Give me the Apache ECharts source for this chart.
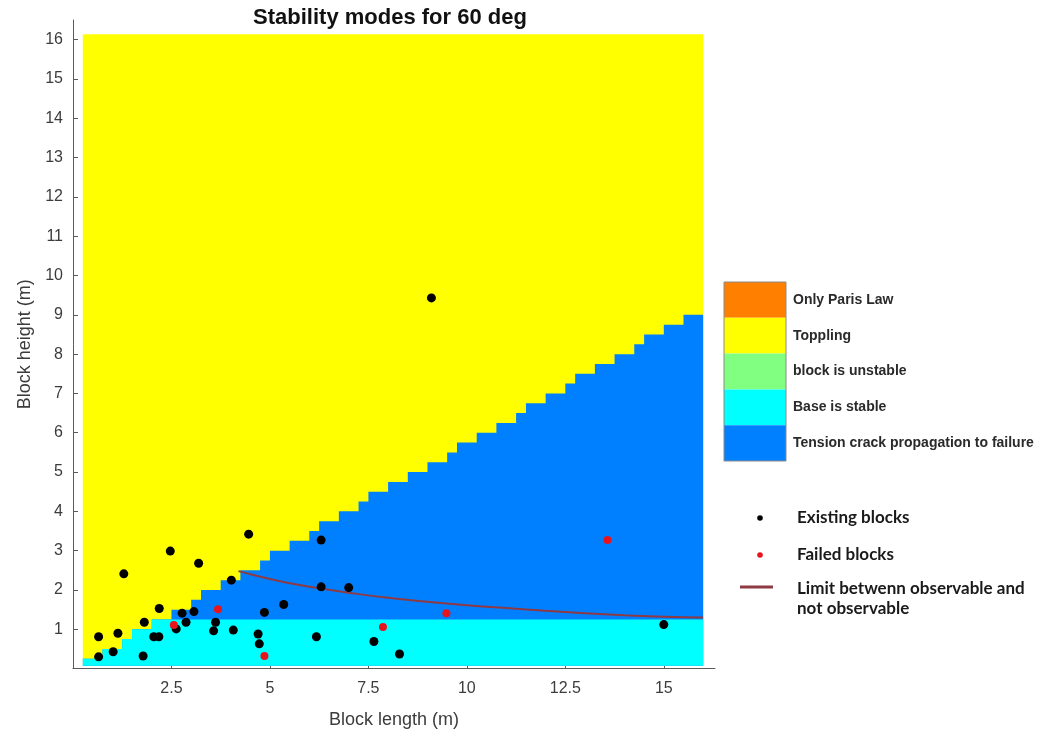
<!DOCTYPE html>
<html>
<head>
<meta charset="utf-8">
<title>Stability modes for 60 deg</title>
<script src="https://cdn.jsdelivr.net/npm/echarts@6/dist/echarts.min.js"></script>
<style>
	html, body { margin: 0; padding: 0; background: #fff; }
	#chart { width: 1043px; height: 738px; }
</style>
</head>
<body>
<div id="chart"></div>
<script>
// stability map (m)
// upper edge of the tension-crack region, one value per step (step starts at stepX)
var stepX = [0.25, 0.75, 1.25, 1.5, 2.0, 2.5, 3.0, 3.25, 3.75, 4.25, 4.75, 5.0, 5.5, 6.0, 6.25, 6.75, 7.25, 7.5,
	8.0, 8.5, 9.0, 9.5, 9.75, 10.25, 10.75, 11.25, 11.5, 12.0, 12.5, 12.75, 13.25, 13.75, 14.25, 14.5, 15.0, 15.5, 16.0];
var stepH = [0.25, 0.5, 0.75, 1.0, 1.25, 1.5, 1.75, 2.0, 2.25, 2.5, 2.75, 3.0, 3.25, 3.5, 3.75, 4.0, 4.25, 4.5,
	4.75, 5.0, 5.25, 5.5, 5.75, 6.0, 6.25, 6.5, 6.75, 7.0, 7.25, 7.5, 7.75, 8.0, 8.25, 8.5, 8.75, 9.0, 9.0];
var baseLimit = 1.25;      // top of "Base is stable" band
var mapX = [0.25, 16.0];   // extent of the computed map
var mapY = [0.07, 16.14];

var existL = [4.46, 6.30, 2.47, 3.19, 1.29, 4.02, 6.30, 7.00, 2.19, 5.35, 2.77, 3.07, 4.86, 1.81, 2.87, 3.62, 2.62,
	3.57, 4.07, 0.65, 1.14, 2.05, 2.18, 4.70, 4.73, 6.18, 0.65, 1.02, 1.78, 7.64, 8.29, 15.0, 9.10];
var existH = [3.42, 3.27, 2.99, 2.68, 2.41, 2.25, 2.08, 2.06, 1.53, 1.63, 1.41, 1.45, 1.43, 1.18, 1.18, 1.18, 1.01,
	0.96, 0.98, 0.81, 0.90, 0.81, 0.81, 0.88, 0.63, 0.81, 0.30, 0.43, 0.32, 0.69, 0.37, 1.12, 9.43];
var failedL = [2.56, 3.68, 4.86, 7.87, 9.48, 13.57];
var failedH = [1.11, 1.51, 0.32, 1.06, 1.41, 3.27];

var limitL = [4.2, 4.5, 5, 5.5, 6, 7, 8, 9, 10, 11, 12, 13, 14, 15, 16];
var limitH = [2.48, 2.40, 2.28, 2.17, 2.08, 1.93, 1.80, 1.70, 1.61, 1.54, 1.47, 1.41, 1.36, 1.32, 1.30];

var modeNames = ['Only Paris Law', 'Toppling', 'block is unstable', 'Base is stable', 'Tension crack propagation to failure'];
var modeColors = ['#ff8000', '#ffff00', '#80ff80', '#00ffff', '#0080ff'];

var xTicks = [2.5, 5, 7.5, 10, 12.5, 15];
var yTicks = [1, 2, 3, 4, 5, 6, 7, 8, 9, 10, 11, 12, 13, 14, 15, 16];

function pairs(xs, ys){
	return xs.map(function(x, i){ return [x, ys[i]]; });
}

var chart = echarts.init(document.getElementById('chart'), null, {renderer: 'canvas'});

var axisColor = '#5a5a5a';
var labelColor = '#3c3c3c';
var limitColor = '#8e3a44';
var legendFont = 'bold 17px Lato';

function regionSeries(name, data, color){
	return {
		name: name,
		type: 'line',
		step: 'end',
		data: data,
		symbol: 'none',
		silent: true,
		lineStyle: {width: 0, opacity: 0},
		areaStyle: {color: color, opacity: 1, origin: mapY[0]},
		z: 1
	};
}

// colorbar + legend on the right
var graphics = [];
var barX = 724, barY = 282, barW = 62, segH = 35.8;
modeNames.forEach(function(name, i){
	graphics.push({
		type: 'rect',
		shape: {x: barX, y: barY + i * segH, width: barW, height: segH},
		style: {fill: modeColors[i], stroke: null}
	});
	graphics.push({
		type: 'text',
		x: 793, y: barY + (i + 0.5) * segH,
		style: {text: name, fill: '#2a2a2a', font: 'bold 14px "Liberation Sans", Arial', verticalAlign: 'middle'}
	});
});
graphics.push({
	type: 'rect',
	shape: {x: barX, y: barY, width: barW, height: segH * modeNames.length},
	style: {fill: null, stroke: '#8a8a8a', lineWidth: 1}
});
graphics.push(
	{type: 'circle', shape: {cx: 760, cy: 518, r: 2.8}, style: {fill: '#000'}},
	{type: 'text', x: 797, y: 518, style: {text: 'Existing blocks', fill: '#1a1a1a', font: legendFont, verticalAlign: 'middle'}},
	{type: 'circle', shape: {cx: 760, cy: 555, r: 2.8}, style: {fill: '#e8141c'}},
	{type: 'text', x: 797, y: 555, style: {text: 'Failed blocks', fill: '#1a1a1a', font: legendFont, verticalAlign: 'middle'}},
	{type: 'line', shape: {x1: 740, y1: 587, x2: 773, y2: 587}, style: {stroke: limitColor, lineWidth: 3}},
	{type: 'text', x: 797, y: 579, style: {text: 'Limit betwenn observable and\nnot observable', fill: '#1a1a1a',
		font: legendFont, lineHeight: 20, verticalAlign: 'top'}}
);

var option = {
	animation: false,
	backgroundColor: '#fff',
	title: {
		text: 'Stability modes for 60 deg',
		left: 390,
		top: 7,
		textAlign: 'center',
		padding: 0,
		textStyle: {fontFamily: '"Liberation Sans", Arial', fontWeight: 'bold', fontSize: 22, color: '#111'}
	},
	grid: {left: 73, top: 20, right: 328, bottom: 69.4, containLabel: false},
	xAxis: {
		type: 'value',
		min: 0,
		max: 16.3,
		name: 'Block length (m)',
		nameLocation: 'middle',
		nameGap: 42,
		nameTextStyle: {fontFamily: '"Liberation Sans", Arial', fontSize: 18, color: labelColor},
		axisLine: {onZero: false, lineStyle: {color: axisColor, width: 1}},
		axisTick: {inside: true, length: 5, customValues: xTicks, lineStyle: {color: axisColor}},
		axisLabel: {customValues: xTicks, margin: 12, fontFamily: '"Liberation Sans", Arial', fontSize: 16, color: labelColor},
		splitLine: {show: false}
	},
	yAxis: {
		type: 'value',
		min: 0,
		max: 16.5,
		name: 'Block height (m)',
		nameLocation: 'middle',
		nameGap: 38,
		nameTextStyle: {fontFamily: '"Liberation Sans", Arial', fontSize: 18, color: labelColor},
		axisLine: {show: true, onZero: false, lineStyle: {color: axisColor, width: 1}},
		axisTick: {show: true, inside: true, length: 5, customValues: yTicks, lineStyle: {color: axisColor}},
		axisLabel: {customValues: yTicks, margin: 10, fontFamily: '"Liberation Sans", Arial', fontSize: 16, color: labelColor},
		splitLine: {show: false}
	},
	graphic: graphics,
	series: [
		regionSeries(modeNames[1], [[mapX[0], mapY[1]], [mapX[1], mapY[1]]], modeColors[1]),
		regionSeries(modeNames[4], pairs(stepX, stepH), modeColors[4]),
		regionSeries(modeNames[3], pairs(stepX, stepH.map(function(h){ return Math.min(h, baseLimit); })), modeColors[3]),
		{
			name: 'Limit betwenn observable and not observable',
			type: 'line',
			data: pairs(limitL, limitH),
			smooth: true,
			symbol: 'none',
			lineStyle: {color: limitColor, width: 2},
			z: 3
		},
		{
			name: 'Existing blocks',
			type: 'scatter',
			data: pairs(existL, existH),
			symbolSize: 9,
			itemStyle: {color: '#000', opacity: 1},
			z: 4
		},
		{
			name: 'Failed blocks',
			type: 'scatter',
			data: pairs(failedL, failedH),
			symbolSize: 8,
			itemStyle: {color: '#e8141c', opacity: 1},
			z: 5
		}
	]
};

chart.setOption(option);
window.addEventListener('resize', function(){
	chart.resize();
});
</script>
</body>
</html>
